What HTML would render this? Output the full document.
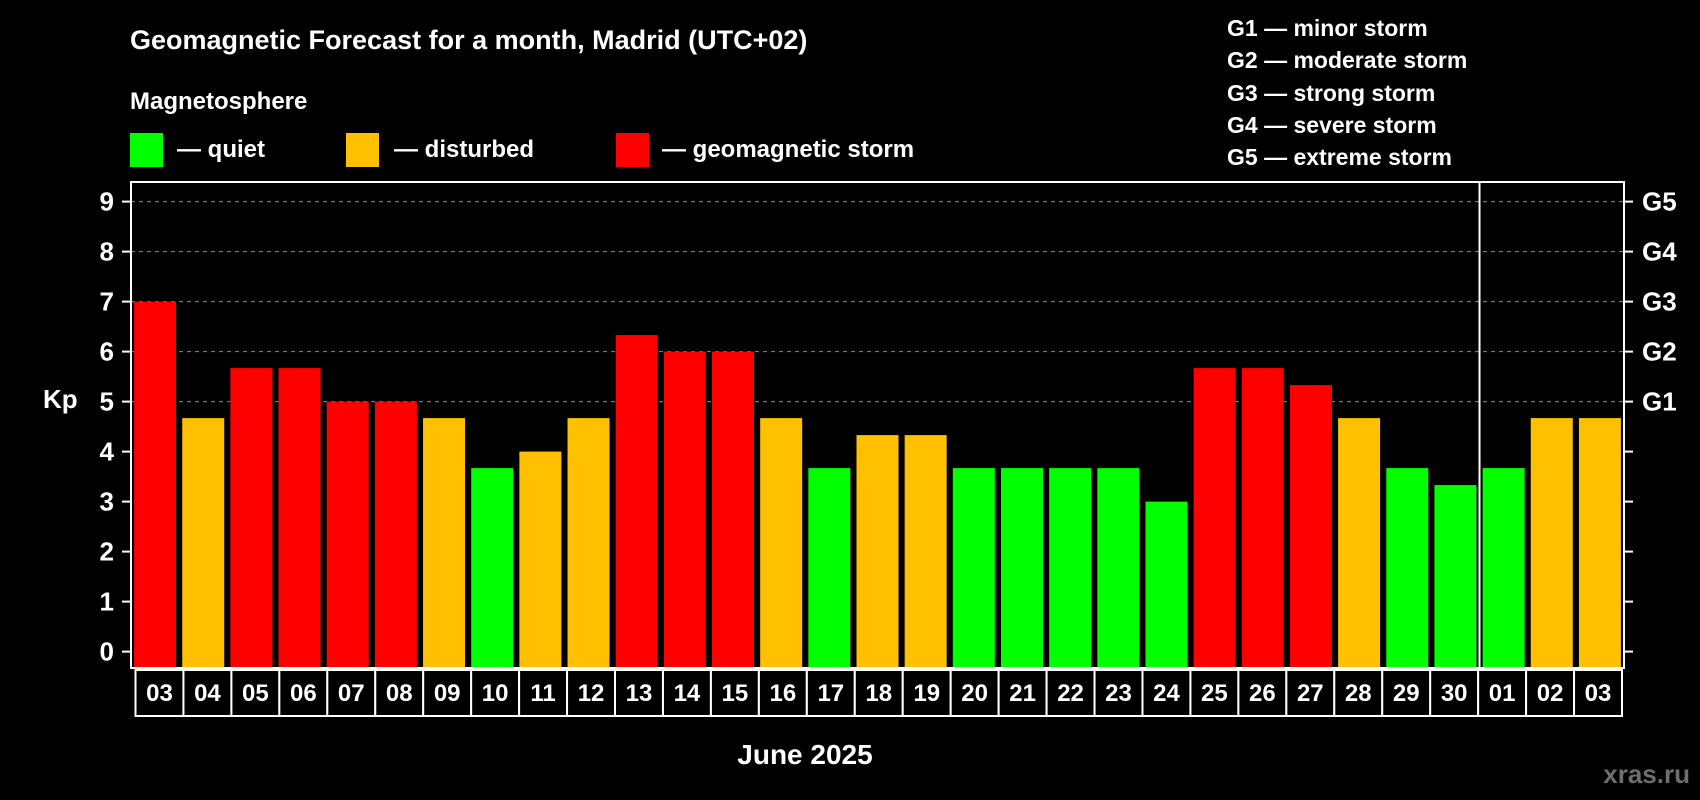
<!DOCTYPE html>
<html><head><meta charset="utf-8"><style>
html,body{margin:0;padding:0;background:#000;}
svg{display:block;font-family:"Liberation Sans",Arial,sans-serif;font-weight:bold;}
</style></head><body>
<svg id="chart" width="1700" height="800" viewBox="0 0 1700 800" xmlns="http://www.w3.org/2000/svg">
<rect width="1700" height="800" fill="#000"/>
<text x="130" y="49" fill="#fff" font-size="27">Geomagnetic Forecast for a month, Madrid (UTC+02)</text>
<text x="130" y="109" fill="#fff" font-size="24">Magnetosphere</text>
<rect x="130" y="133" width="33" height="34" fill="#00ff00"/>
<text x="177" y="157" fill="#fff" font-size="24">— quiet</text>
<rect x="346" y="133" width="33" height="34" fill="#ffc000"/>
<text x="394" y="157" fill="#fff" font-size="24">— disturbed</text>
<rect x="616" y="133" width="33" height="34" fill="#ff0000"/>
<text x="662" y="157" fill="#fff" font-size="24">— geomagnetic storm</text>
<g fill="#fff" font-size="23">
<text x="1227" y="36">G1 — minor storm</text>
<text x="1227" y="68">G2 — moderate storm</text>
<text x="1227" y="101">G3 — strong storm</text>
<text x="1227" y="133">G4 — severe storm</text>
<text x="1227" y="165">G5 — extreme storm</text>
</g>
<text x="43" y="408" fill="#fff" font-size="26">Kp</text>
<text x="805" y="764" fill="#fff" font-size="28" text-anchor="middle">June 2025</text>
<text x="1690" y="783" fill="#6e6e6e" font-size="26" text-anchor="end">xras.ru</text>
<g id="plot"></g>
</svg>
<script>
const categories = ["03","04","05","06","07","08","09","10","11","12","13","14","15","16","17","18","19","20","21","22","23","24","25","26","27","28","29","30","01","02","03"];
const kpValues = [7,4.67,5.67,5.67,5,5,4.67,3.67,4,4.67,6.33,6,6,4.67,3.67,4.33,4.33,3.67,3.67,3.67,3.67,3,5.67,5.67,5.33,4.67,3.67,3.33,3.67,4.67,4.67];
const yTicks = [0,1,2,3,4,5,6,7,8,9];
const gLabels = ["","","","","","G1","G2","G3","G4","G5"];
const monthBreakIndex = 28;

const NS = "http://www.w3.org/2000/svg";
const plot = document.getElementById('plot');
const L = 131, R = 1624, T = 182, B = 668;
const slot = (R - L) / categories.length;
function x(i){ return L + i * slot; }
function y(v){ return 651.6 - 50 * v; }
function mk(tag, attrs, parent){
  const el = document.createElementNS(NS, tag);
  for (const k in attrs) el.setAttribute(k, attrs[k]);
  (parent || plot).appendChild(el);
  return el;
}
function color(v){ return v < 4 ? '#00ff00' : (v < 5 ? '#ffc000' : '#ff0000'); }

// gridlines
yTicks.forEach(t => {
  if (t >= 5) {
    const g = mk('line', {x1: L, x2: R, y1: y(t), y2: y(t), stroke: '#8a8a8a', 'stroke-width': 1, 'stroke-dasharray': '4 4'});
    
    
  }
});
// bars
kpValues.forEach((v, i) => {
  const bw = 42;
  const b = mk('rect', {x: x(i) + (slot - bw) / 2, y: y(v), width: bw, height: B - y(v), fill: color(v)});
  
  
});
// month separator
const sep = mk('line', {x1: x(monthBreakIndex), x2: x(monthBreakIndex), y1: T, y2: B, stroke: '#fff', 'stroke-width': 2});


// frame
const frame = mk('rect', {x: L, y: T, width: R - L, height: B - T, fill: 'none', stroke: '#fff', 'stroke-width': 2});


// y ticks
yTicks.forEach((t, i) => {
  const tl = mk('line', {x1: L - 9, x2: L, y1: y(t), y2: y(t), stroke: '#fff', 'stroke-width': 2});
  
  
  const lb = mk('text', {x: 114, y: y(t) + 9, fill: '#fff', 'font-size': 26, 'text-anchor': 'end'});
  lb.textContent = String(t);
  
  
  const tr = mk('line', {x1: R, x2: R + 9, y1: y(t), y2: y(t), stroke: '#fff', 'stroke-width': 2});
  
  
  if (gLabels[i]) {
    const gl = mk('text', {x: 1642, y: y(t) + 9, fill: '#fff', 'font-size': 26});
    gl.textContent = gLabels[i];
    
    
  }
});
// date label boxes
const bx0 = 135.5, bx1 = 1622, bw2 = (bx1 - bx0) / categories.length;
categories.forEach((c, i) => {
  const r = mk('rect', {x: bx0 + i * bw2, y: 670, width: bw2, height: 46, fill: '#000', stroke: '#fff', 'stroke-width': 2});
  
  
  const t = mk('text', {x: bx0 + (i + 0.5) * bw2, y: 701, fill: '#fff', 'font-size': 24, 'text-anchor': 'middle'});
  t.textContent = c;
  
  
});
</script>
</body></html>
